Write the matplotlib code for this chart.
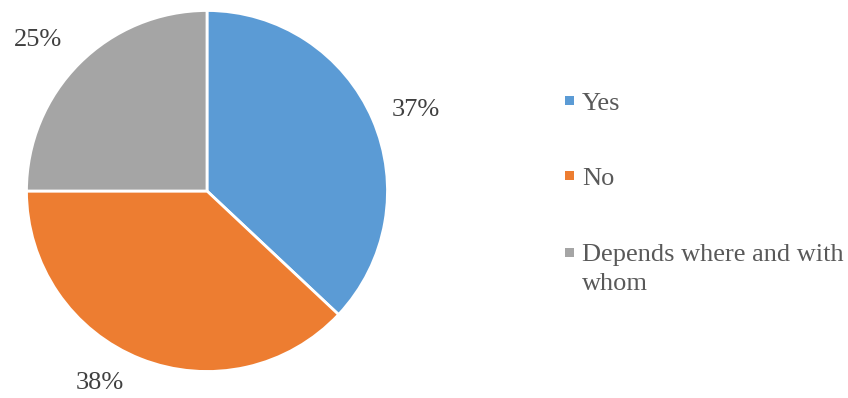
import matplotlib.pyplot as plt
from matplotlib.patches import Rectangle

labels = ["Yes", "No", "Depends where and with\nwhom"]
shares = [37, 38, 25]
colors = ["#5B9BD5", "#ED7D31", "#A5A5A5"]

# label spots (px, from top-left) as placed in the original chart
pct_pos = [(416, 110), (100, 383), (38, 40)]
legend_base = [110, 185, 262]   # baseline of first line
line_gap = 28

plt.rcParams["font.family"] = ["Liberation Serif", "DejaVu Serif"]

W, H = 848, 398
fig = plt.figure(figsize=(W / 100, H / 100), dpi=100)

# pie centre ~ (207, 191) px, radius ~ 180 px
cx, cy, r = 207, 191, 180.5
ax = fig.add_axes([(cx - r) / W, (H - cy - r) / H, 2 * r / W, 2 * r / H])

wedges, texts, autotexts = ax.pie(
    shares,
    colors=colors,
    startangle=90,
    counterclock=False,
    autopct="%d%%",
    wedgeprops=dict(edgecolor="white", linewidth=2),
    radius=1,
)

for t, (px, py) in zip(autotexts, pct_pos):
    t.set_position(((px - cx) / r, (cy - py) / r))
    t.set_fontsize(19)
    t.set_color("#404040")
    t.set_ha("center")
    t.set_va("center")

ax.set_xlim(-1, 1)
ax.set_ylim(-1, 1)
ax.set_aspect("equal")
ax.axis("off")

# legend drawn by hand so the marker sits on the first text line
for lab, col, yb in zip(labels, colors, legend_base):
    fig.add_artist(Rectangle(
        (565 / W, 1 - (yb - 5) / H), 9 / W, 9 / H,
        transform=fig.transFigure, facecolor=col, edgecolor="none"
    ))
    y_last = yb + line_gap * lab.count("\n")
    fig.text(
        582 / W, 1 - y_last / H, lab,
        fontsize=19, color="#595959",
        ha="left", va="baseline", linespacing=1.4
    )

fig.savefig("out.png", dpi=100)
